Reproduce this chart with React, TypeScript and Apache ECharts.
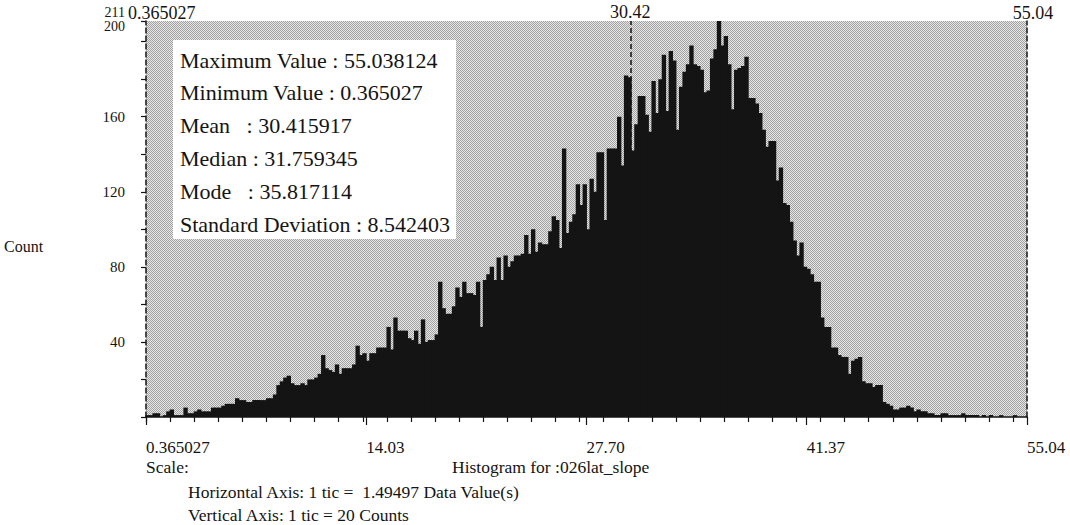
import React, { useEffect, useRef } from "react";
import * as echarts from "echarts";

// ---- data ----
const X_MIN = 0.365027;
const X_MAX = 55.038124;
const MEAN = 30.415917;
const TICK_STEP = 1.49497; // horizontal axis: 1 tic
const Y_MAX = 211;
const Y_TICK = 20;

// 256 histogram bins, counts
const counts = [
  1, 1, 2, 2, 0, 1, 3, 4, 1, 1, 1, 5, 2, 2, 3, 4, 3, 3, 3, 5,
  5, 5, 6, 7, 7, 7, 10, 9, 9, 8, 8, 9, 9, 9, 9, 10, 10, 12, 17, 19,
  21, 22, 18, 17, 17, 18, 17, 20, 20, 21, 23, 33, 26, 25, 24, 28, 23, 26, 26, 26,
  28, 38, 33, 34, 30, 34, 34, 37, 37, 37, 48, 36, 53, 46, 46, 46, 42, 41, 46, 39,
  52, 40, 41, 41, 44, 72, 58, 55, 55, 59, 69, 64, 72, 66, 66, 65, 72, 48, 73, 76,
  80, 73, 85, 73, 86, 80, 83, 86, 86, 87, 97, 87, 100, 88, 93, 92, 92, 99, 107, 105,
  90, 143, 98, 104, 108, 124, 113, 124, 100, 127, 120, 141, 141, 105, 143, 143, 143, 160, 134, 182,
  181, 142, 156, 171, 171, 161, 152, 179, 162, 180, 193, 163, 195, 190, 153, 176, 184, 188, 198, 188,
  187, 185, 173, 174, 191, 196, 211, 198, 203, 188, 164, 185, 186, 187, 192, 170, 170, 167, 162, 153,
  144, 147, 147, 126, 133, 114, 113, 104, 94, 86, 93, 80, 79, 76, 72, 72, 53, 48, 48, 37,
  37, 33, 32, 32, 23, 30, 31, 32, 19, 18, 18, 16, 17, 17, 8, 7, 6, 4, 4, 5,
  5, 6, 5, 3, 4, 3, 3, 2, 2, 1, 1, 2, 2, 1, 1, 1, 1, 2, 1, 1,
  1, 1, 0, 1, 0, 1, 0, 0, 1, 0, 0, 0, 1, 0, 0, 0,
];

const BIN_W = (X_MAX - X_MIN) / counts.length;
const binLabels = counts.map((_, i) => (X_MIN + i * BIN_W).toFixed(4));

// bottom axis tick labels
const xLabelValues = [0.365027, 14.033301, 27.701575, 41.369849, 55.038124];
const xLabelTexts = ["0.365027", "14.03", "27.70", "41.37", "55.04"];
// minor ticks: one every TICK_STEP from the minimum
const xMinorTicks: number[] = [];
for (let k = 0; X_MIN + k * TICK_STEP <= X_MAX + 1e-9; k++) xMinorTicks.push(X_MIN + k * TICK_STEP);

const yLabelShown = [40, 80, 120, 160];

const statLines = [
  "Maximum Value : 55.038124",
  "Minimum Value : 0.365027",
  "Mean\u00a0\u00a0\u00a0: 30.415917",
  "Median : 31.759345",
  "Mode\u00a0\u00a0\u00a0: 35.817114",
  "Standard Deviation : 8.542403",
];

const SERIF = "Liberation Serif";
const INK = "#141414";

function stipple(): any {
  try {
    const c = document.createElement("canvas");
    c.width = 2;
    c.height = 2;
    const g = c.getContext("2d");
    if (!g) return "#c6c6c6";
    g.fillStyle = "#e6e6e6";
    g.fillRect(0, 0, 2, 2);
    g.fillStyle = "#a2a2a2";
    g.fillRect(0, 0, 1, 1);
    g.fillRect(1, 1, 1, 1);
    return { image: c.toDataURL(), repeat: "repeat", imageWidth: 2, imageHeight: 2 };
  } catch (e) {
    return "#c6c6c6";
  }
}

export default function App() {
  const ref = useRef<HTMLDivElement>(null);
  useEffect(() => {
    if (!ref.current) return;
    const chart = echarts.init(ref.current, undefined, { renderer: "svg" });
    const txt = (text: string, x: number, y: number, size: number, align = "left") => ({
      type: "text", x, y,
      style: { text, fontFamily: SERIF, fontSize: size, fill: INK, textAlign: align, textVerticalAlign: "middle" },
    });
    const graphic: any[] = [
      { type: "rect", shape: { x: 173, y: 40, width: 283, height: 199 }, style: { fill: "#ffffff" }, z: 100 },
      ...statLines.map((t, i) => ({ ...txt(t, 180, 60 + i * 32.8, 22), z: 101 })),
      txt("211", 125, 12, 14, "right"),
      txt("200", 125, 26, 14, "right"),
      txt("Count", 4, 246, 16),
      txt("0.365027", 128, 13, 18),
      txt("55.04", 1033, 13, 18, "center"),
      txt("Scale:", 146, 467, 17.5),
      txt("Histogram for :026lat_slope", 452, 467, 17.5),
      txt("Horizontal Axis: 1 tic =\u00a0 1.49497 Data Value(s)", 188, 492, 17.5),
      txt("Vertical Axis: 1 tic = 20 Counts", 188, 515, 17.5),
    ];
    const option: any = {
      animation: false,
      backgroundColor: "#ffffff",
      grid: { left: 146, right: 43, top: 21, bottom: 108, show: true, backgroundColor: stipple(), borderWidth: 0 },
      xAxis: [
        { type: "category", data: binLabels, show: false, boundaryGap: true },
        {
          type: "value", min: X_MIN, max: X_MAX, position: "bottom",
          axisLine: { show: true, onZero: false, lineStyle: { color: INK, width: 1.5 } },
          axisTick: { show: true, customValues: xMinorTicks, length: 5, lineStyle: { color: INK, width: 1.2 } },
          axisLabel: { show: false },
          splitLine: { show: false },
        },
        {
          type: "value", min: X_MIN, max: X_MAX, position: "bottom",
          axisLine: { show: false, onZero: false },
          axisTick: { show: true, customValues: xLabelValues, length: 8, lineStyle: { color: INK, width: 1.2 } },
          axisLabel: {
            show: true, customValues: xLabelValues,
            formatter: (v: number) => {
              const idx = xLabelValues.findIndex((x) => Math.abs(x - v) < 1e-4);
              return idx >= 0 ? xLabelTexts[idx] : "";
            },
            align: "left", margin: 22, fontSize: 17, fontFamily: SERIF, color: INK,
          },
          splitLine: { show: false },
        },
      ],
      yAxis: [
        {
          type: "value", min: 0, max: Y_MAX, interval: Y_TICK,
          axisLine: { show: true, lineStyle: { color: INK, width: 1.5, type: [5, 3] } },
          axisTick: { show: true, length: 5, lineStyle: { color: INK, width: 1.2 } },
          axisLabel: {
            formatter: (v: number) => (yLabelShown.includes(v) ? String(v) : ""),
            margin: 21, fontSize: 15, fontFamily: SERIF, color: INK,
          },
          splitLine: { show: false },
        },
        {
          type: "value", min: 0, max: Y_MAX, interval: Y_TICK, position: "right",
          axisLine: { show: true, lineStyle: { color: INK, width: 1.5, type: [5, 3] } },
          axisTick: { show: false },
          axisLabel: { show: false },
          splitLine: { show: false },
        },
      ],
      series: [
        {
          type: "custom", xAxisIndex: 0, yAxisIndex: 0, silent: true,
          data: counts.map((v, i) => [i, v]),
          encode: { x: 0, y: 1 },
          renderItem: (params: any, api: any) => {
            const idx = api.value(0);
            const top = api.coord([idx, api.value(1)]);
            const base = api.coord([idx, 0]);
            const w = api.size([1, 0])[0];
            return {
              type: "rect",
              shape: { x: top[0] - w / 2 - 0.45, y: top[1], width: w + 0.9, height: base[1] - top[1] },
              style: { fill: INK },
            };
          },
        },
        {
          type: "line", xAxisIndex: 1, yAxisIndex: 0, data: [[X_MIN, 0]], symbol: "none",
          lineStyle: { opacity: 0 }, silent: true,
          markLine: {
            symbol: ["none", "none"], silent: true,
            lineStyle: { type: [5, 3], color: INK, width: 1.5 },
            label: { position: "end", distance: 0, color: INK, fontSize: 18, fontFamily: SERIF },
            data: [{ xAxis: MEAN, label: { formatter: "30.42" } }],
          },
        },
      ],
      graphic,
    };
    chart.setOption(option);
    return () => chart.dispose();
  }, []);
  return <div ref={ref} style={{ position: "fixed", left: 0, top: 0, width: 1070, height: 525 }} />;
}
